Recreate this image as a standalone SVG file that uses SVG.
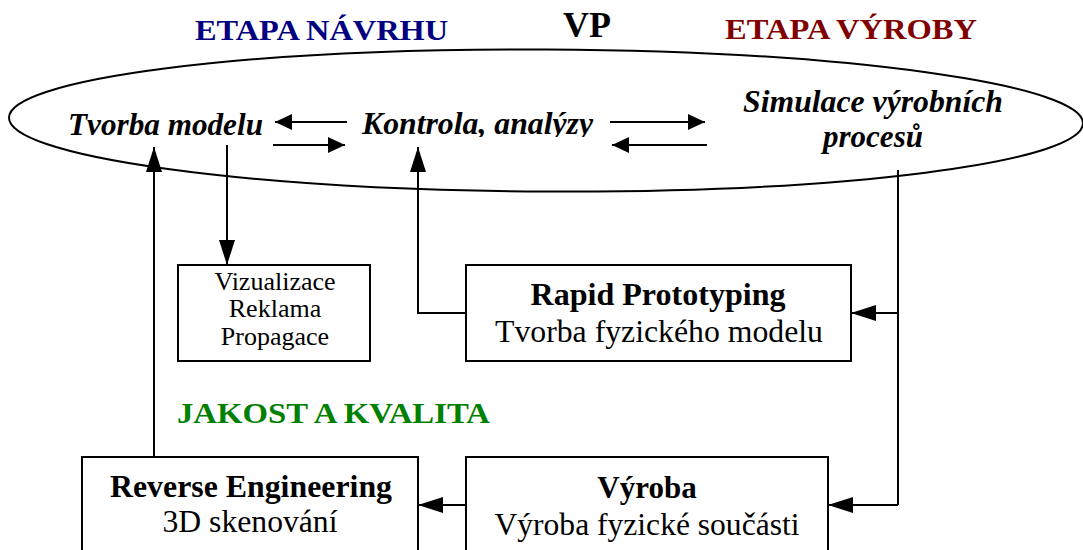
<svg xmlns="http://www.w3.org/2000/svg" width="1083" height="550" viewBox="0 0 1083 550">
  <style>
    .box { fill: #ffffff; stroke: #000000; stroke-width: 2; }
    .ln { fill: none; stroke: #000000; stroke-width: 2; }
    .t { font-family: "Liberation Serif", "Times New Roman", serif; fill: #000000; }
    .b { font-weight: bold; }
    .i { font-style: italic; }
    .head { font-family: "Liberation Serif", "Times New Roman", serif; font-weight: bold; font-size: 30px; }
    .big { marker-end: url(#ahBig); }
    .sm { marker-end: url(#ahSm); }
  </style>
  <defs>
    <marker id="ahBig" markerUnits="userSpaceOnUse" markerWidth="25" markerHeight="16" refX="25" refY="8" orient="auto">
      <path d="M0,0 L25,8 L0,16 Z" fill="#000000"/>
    </marker>
    <marker id="ahSm" markerUnits="userSpaceOnUse" markerWidth="17" markerHeight="16" refX="17" refY="8" orient="auto">
      <path d="M0,0 L17,8 L0,16 Z" fill="#000000"/>
    </marker>
    <clipPath id="clipK">
      <rect x="0" y="0" width="1083" height="137"/>
    </clipPath>
  </defs>
  <rect width="1083" height="550" fill="#ffffff"/>

  <g id="headings">
    <text class="head" x="195" y="40" fill="#000080" textLength="253" lengthAdjust="spacingAndGlyphs">ETAPA NÁVRHU</text>
    <text class="t b" x="587" y="37" font-size="36" text-anchor="middle">VP</text>
    <text class="head" x="725" y="39" fill="#800000" textLength="252" lengthAdjust="spacingAndGlyphs">ETAPA VÝROBY</text>
  </g>

  <g id="vp-ellipse">
    <ellipse class="ln" cx="546" cy="120.5" rx="537" ry="71" transform="rotate(0.3 546 120.5)"/>
  </g>

  <g id="node-tvorba">
    <text class="t b i" x="68" y="135" font-size="31" textLength="195" lengthAdjust="spacingAndGlyphs">Tvorba modelu</text>
  </g>
  <g id="node-kontrola" clip-path="url(#clipK)">
    <text class="t b i" x="362" y="134" font-size="31" textLength="231" lengthAdjust="spacingAndGlyphs">Kontrola, analýzy</text>
  </g>
  <g id="node-simulace">
    <text class="t b i" x="873" y="112" font-size="31" text-anchor="middle" textLength="260" lengthAdjust="spacingAndGlyphs">Simulace výrobních</text>
    <text class="t b i" x="873" y="147" font-size="31" text-anchor="middle">procesů</text>
  </g>

  <g id="node-vizualizace">
    <rect class="box" x="178" y="265" width="192" height="96"/>
    <text class="t" x="275" y="290" font-size="26" text-anchor="middle">Vizualizace</text>
    <text class="t" x="275" y="317" font-size="26" text-anchor="middle">Reklama</text>
    <text class="t" x="275" y="345" font-size="26" text-anchor="middle">Propagace</text>
  </g>

  <g id="node-rapid">
    <rect class="box" x="466" y="265" width="385" height="96"/>
    <text class="t b" x="658" y="305" font-size="31" text-anchor="middle" textLength="255" lengthAdjust="spacingAndGlyphs">Rapid Prototyping</text>
    <text class="t" x="659" y="342" font-size="31" text-anchor="middle" textLength="328" lengthAdjust="spacingAndGlyphs">Tvorba fyzického modelu</text>
  </g>

  <g id="label-jakost">
    <text class="head" x="177" y="423" fill="#008000" textLength="313" lengthAdjust="spacingAndGlyphs">JAKOST A KVALITA</text>
  </g>

  <g id="node-reverse">
    <rect class="box" x="82" y="457" width="336" height="110"/>
    <text class="t b" x="251" y="497" font-size="31" text-anchor="middle" textLength="282" lengthAdjust="spacingAndGlyphs">Reverse Engineering</text>
    <text class="t" x="250" y="532" font-size="31" text-anchor="middle" textLength="175" lengthAdjust="spacingAndGlyphs">3D skenování</text>
  </g>

  <g id="node-vyroba">
    <rect class="box" x="466" y="457" width="362" height="110"/>
    <text class="t b" x="647" y="498" font-size="31" text-anchor="middle">Výroba</text>
    <text class="t" x="647" y="535" font-size="31" text-anchor="middle" textLength="305" lengthAdjust="spacingAndGlyphs">Výroba fyzické součásti</text>
  </g>

  <g id="connectors">
    <!-- between Tvorba and Kontrola -->
    <line class="ln sm" x1="347" y1="122" x2="275" y2="122"/>
    <line class="ln sm" x1="273" y1="145" x2="345" y2="145"/>
    <!-- between Kontrola and Simulace -->
    <line class="ln sm" x1="610" y1="122" x2="705" y2="122"/>
    <line class="ln sm" x1="707" y1="145" x2="612" y2="145"/>
    <!-- Tvorba down to Vizualizace -->
    <line class="ln big" x1="227" y1="145" x2="227" y2="265"/>
    <!-- Reverse Engineering up to Tvorba -->
    <line class="ln big" x1="154" y1="457" x2="154" y2="147"/>
    <!-- Rapid Prototyping to Kontrola -->
    <polyline class="ln big" points="466,313 418,313 418,147"/>
    <!-- Simulace down to Rapid and Vyroba -->
    <polyline class="ln" points="898,170 898,505"/>
    <line class="ln big" x1="898" y1="313" x2="851" y2="313"/>
    <line class="ln big" x1="898" y1="505" x2="828" y2="505"/>
    <!-- Vyroba to Reverse -->
    <line class="ln big" x1="466" y1="505" x2="418" y2="505"/>
  </g>
</svg>
